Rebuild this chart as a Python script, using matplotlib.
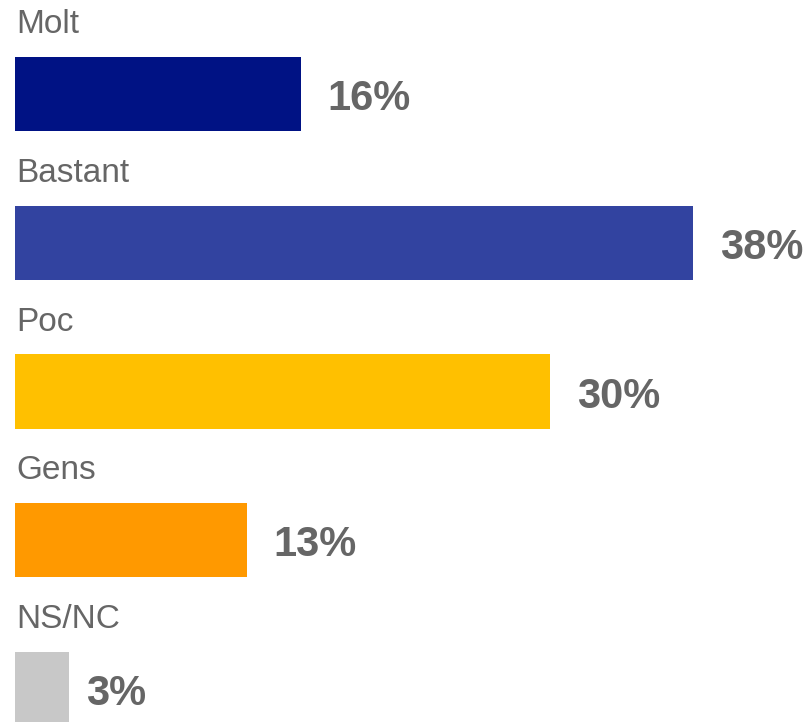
import matplotlib.pyplot as plt

# dades
categories = ['Molt', 'Bastant', 'Poc', 'Gens', 'NS/NC']
values = [16, 38, 30, 13, 3]
colors = ['#001284', '#3243A0', '#FFC000', '#FF9900', '#C8C8C8']

plt.rcParams['font.family'] = ['Liberation Sans', 'DejaVu Sans']

fig = plt.figure(figsize=(8.05, 7.22), dpi=100)
ax = fig.add_axes([0, 0, 1, 1])

pos = list(range(len(categories)))
ax.barh(pos, values, height=0.5, color=colors, edgecolor='none')

for i, (cat, val) in enumerate(zip(categories, values)):
    # etiqueta de categoria a sobre de la barra
    ax.text(0.05, i - 0.41, cat, ha='left', va='baseline',
            fontsize=24, color='#666666')
    # valor en negreta a la dreta
    pad = 1.5 if val > 5 else 1.0
    ax.text(val + pad, i + 0.108, f'{val}%', ha='left', va='baseline',
            fontsize=30, fontweight='bold', color='#666666')

ax.set_xlim(-0.84, 44.26)
ax.set_ylim(4.222, -0.632)
ax.axis('off')

fig.savefig('out.png', dpi=100)
